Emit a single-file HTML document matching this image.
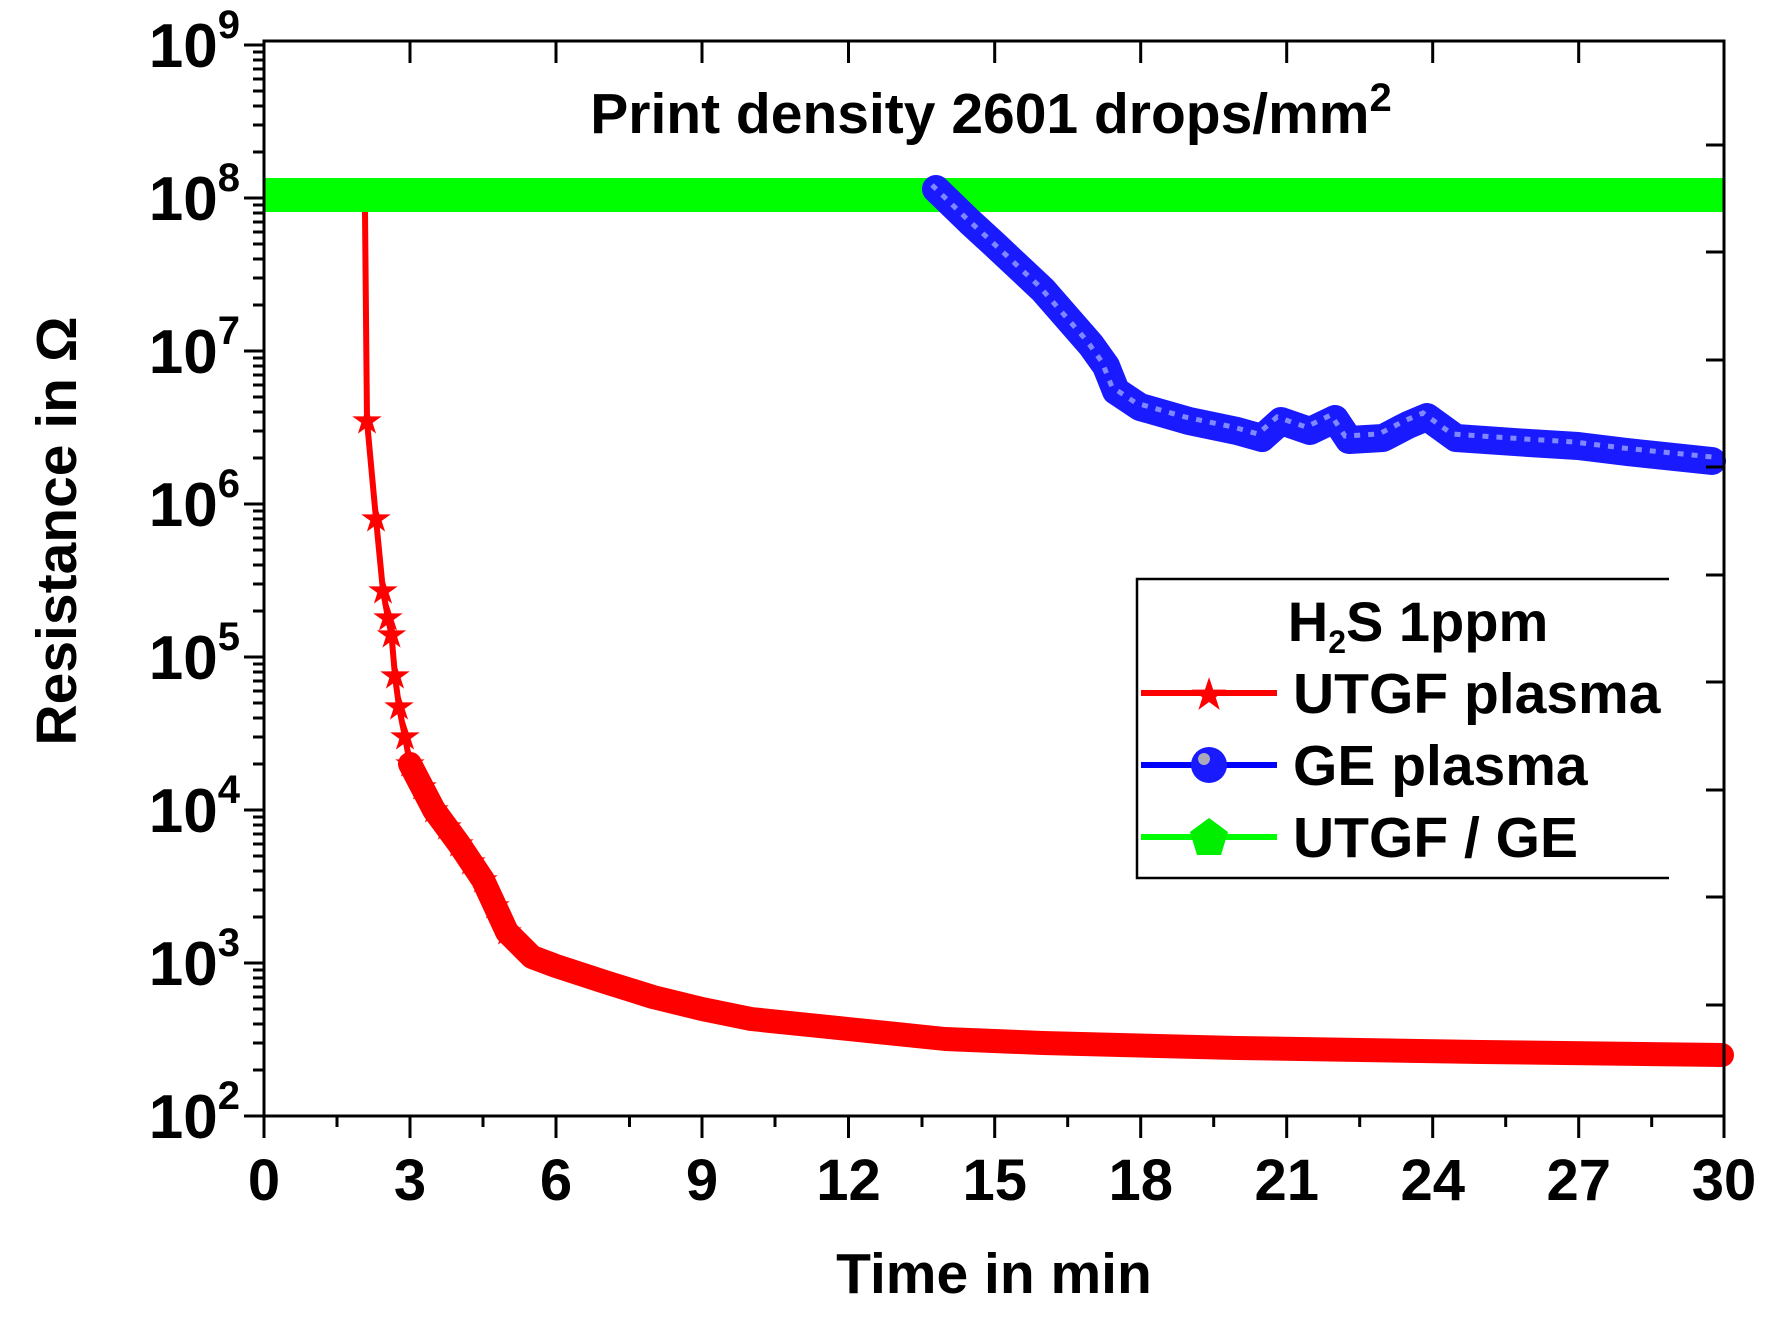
<!DOCTYPE html>
<html><head><meta charset="utf-8"><style>
html,body{margin:0;padding:0;background:#fff;}
svg{display:block;font-family:"Liberation Sans",Arial,sans-serif;font-weight:bold;}
</style></head><body>
<svg width="1771" height="1318" viewBox="0 0 1771 1318" xmlns="http://www.w3.org/2000/svg">
<rect width="1771" height="1318" fill="#fff"/>
<rect x="264" y="178" width="1460" height="34" fill="#00ff00"/>
<polyline fill="none" stroke="#f00" stroke-width="6" points="365,212 367,421 376,519 383,591 388,618 391.5,635 395,676 399,707 405,737 410,764"/>
<polyline fill="none" stroke="#f00" stroke-width="24" stroke-linejoin="round" stroke-linecap="round" points="410,764 434,810 459,844 483,880 507,932 532,957 556,966 605,982 653,997 702,1009 751,1019 848,1029 945,1039 1043,1043 1237,1048 1481,1052 1722,1055"/>
<g fill="#f00" font-size="34" text-anchor="middle">
<text x="367" y="432">★</text><text x="376" y="530">★</text><text x="383" y="602">★</text><text x="388" y="629">★</text><text x="391.5" y="646">★</text><text x="395" y="687">★</text><text x="399" y="718">★</text><text x="405" y="748">★</text><text x="410" y="775">★</text><text x="422" y="798">★</text><text x="434" y="821">★</text><text x="447" y="838">★</text><text x="459" y="855">★</text><text x="471" y="873">★</text><text x="483" y="891">★</text><text x="495" y="917">★</text><text x="507" y="943">★</text>
</g>
<polyline fill="none" stroke="#1a1aff" stroke-width="28" stroke-linejoin="round" stroke-linecap="round" points="936,189 970,222 994,244 1043,290 1091,345 1106,366 1116,391 1140,407 1189,421 1237,431 1262,438 1281,421 1310,431 1335,419 1349,440 1383,438 1408,425 1427,417 1456,438 1529,443 1578,446 1627,452 1712,461"/>
<polyline fill="none" stroke="#8088ff" stroke-width="5" stroke-dasharray="6 8" points="932,185 966,218 990,240 1039,286 1087,341 1102,362 1112,387 1136,403 1185,417 1233,427 1258,434 1277,417 1306,427 1331,415 1345,436 1379,434 1404,421 1423,413 1452,434 1525,439 1574,442 1623,448 1712,457"/>
<g stroke="#000" stroke-width="3" fill="none">
<rect x="264" y="41" width="1460" height="1075"/>
<path d="M264 1116v22M337 1116v11M410 1116v22M483 1116v11M556 1116v22M629.5 1116v11M702 1116v22M775 1116v11M848.5 1116v22M922 1116v11M994.7 1116v22M1067.7 1116v11M1140.7 1116v22M1213.7 1116v11M1286.7 1116v22M1359.7 1116v11M1432.7 1116v22M1505.7 1116v11M1578.7 1116v22M1651.7 1116v11M1724 1116v22"/>
<path d="M410 41v22M556 41v22M702 41v22M848.5 41v22M994.7 41v22M1140.7 41v22M1286.7 41v22M1432.7 41v22M1578.7 41v22"/>
<path d="M244 1116h20M244 963h20M244 810h20M244 657h20M244 504h20M244 351h20M244 198h20M244 45h20"/>
<path d="M253 1070h11M253 1043h11M253 1024h11M253 1009h11M253 997h11M253 987h11M253 978h11M253 970h11
M253 917h11M253 890h11M253 871h11M253 856h11M253 844h11M253 834h11M253 825h11M253 817h11
M253 764h11M253 737h11M253 718h11M253 703h11M253 691h11M253 681h11M253 672h11M253 664h11
M253 611h11M253 584h11M253 565h11M253 550h11M253 538h11M253 528h11M253 519h11M253 511h11
M253 458h11M253 431h11M253 412h11M253 397h11M253 385h11M253 375h11M253 366h11M253 358h11
M253 305h11M253 278h11M253 259h11M253 244h11M253 232h11M253 222h11M253 213h11M253 205h11
M253 152h11M253 125h11M253 106h11M253 91h11M253 79h11M253 69h11M253 60h11M253 52h11"/>
<path d="M1706 145h18M1706 252h18M1706 360h18M1706 467h18M1706 575h18M1706 682h18M1706 790h18M1706 897h18M1706 1005h18"/>
</g>
<g font-size="58" text-anchor="middle">
<text x="264" y="1200">0</text><text x="410" y="1200">3</text><text x="556" y="1200">6</text><text x="702" y="1200">9</text><text x="848.5" y="1200">12</text><text x="994.7" y="1200">15</text><text x="1140.7" y="1200">18</text><text x="1286.7" y="1200">21</text><text x="1432.7" y="1200">24</text><text x="1578.7" y="1200">27</text><text x="1724" y="1200">30</text>
</g>
<g font-size="62" text-anchor="end">
<text x="240" y="1138">10<tspan font-size="40" dy="-29">2</tspan></text>
<text x="240" y="985">10<tspan font-size="40" dy="-29">3</tspan></text>
<text x="240" y="832">10<tspan font-size="40" dy="-29">4</tspan></text>
<text x="240" y="679">10<tspan font-size="40" dy="-29">5</tspan></text>
<text x="240" y="526">10<tspan font-size="40" dy="-29">6</tspan></text>
<text x="240" y="373">10<tspan font-size="40" dy="-29">7</tspan></text>
<text x="240" y="220">10<tspan font-size="40" dy="-29">8</tspan></text>
<text x="240" y="67">10<tspan font-size="40" dy="-29">9</tspan></text>
</g>
<text x="991" y="133" font-size="57" text-anchor="middle">Print density 2601 drops/mm<tspan font-size="40" dy="-22">2</tspan></text>
<text x="994" y="1293" font-size="57" text-anchor="middle">Time in min</text>
<text transform="translate(76,531) rotate(-90)" font-size="57" text-anchor="middle">Resistance in Ω</text>
<path d="M1669 579 H1137 V878 H1669" stroke="#000" stroke-width="2.5" fill="none"/>
<text x="1418" y="641" font-size="56" text-anchor="middle">H<tspan font-size="32" dy="12">2</tspan><tspan dy="-12">S 1ppm</tspan></text>
<line x1="1141" y1="693" x2="1277" y2="693" stroke="#f00" stroke-width="6"/>
<text x="1209" y="708" font-size="40" fill="#f00" text-anchor="middle">★</text>
<text x="1293" y="713" font-size="57">UTGF plasma</text>
<line x1="1141" y1="765" x2="1277" y2="765" stroke="#0000ff" stroke-width="6"/>
<circle cx="1209" cy="765" r="18" fill="#1a1aff"/><circle cx="1204" cy="759" r="6" fill="#aab"/>
<text x="1293" y="785" font-size="57">GE plasma</text>
<line x1="1141" y1="837" x2="1277" y2="837" stroke="#00ff00" stroke-width="6"/>
<polygon points="1209,818 1228,832 1221,855 1197,855 1190,832" fill="#00ee00"/>
<text x="1293" y="857" font-size="57">UTGF / GE</text>
</svg>
</body></html>
